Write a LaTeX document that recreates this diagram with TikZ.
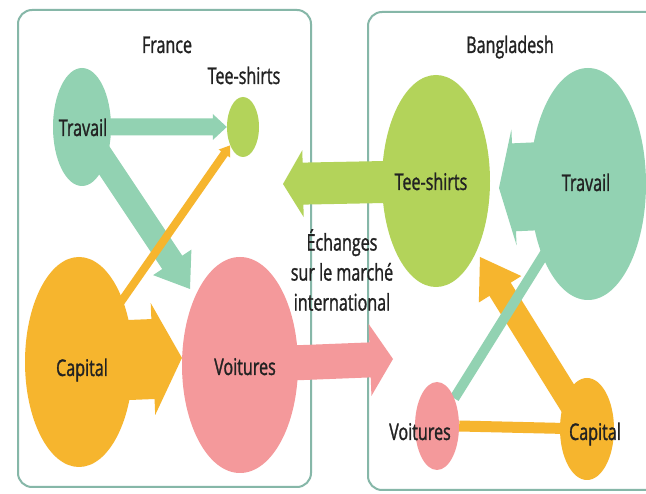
\documentclass[tikz,border=0pt]{standalone}
\usepackage{fontspec}
\setmainfont{Open Sans}[FakeStretch=0.7,FakeBold=1.2]
\usetikzlibrary{calc,shapes.geometric}
\definecolor{mint}{HTML}{92D2B2}
\definecolor{lime}{HTML}{B3D35A}
\definecolor{orng}{HTML}{F6B52E}
\definecolor{pinkc}{HTML}{F4999B}
\definecolor{frm}{HTML}{86B7A8}
\definecolor{txt}{HTML}{222222}
\pgfdeclarelayer{bg}
\pgfsetlayers{bg,main}
\newcommand{\fatarr}[6]{%
  \coordinate (fa-h) at ($(#2)!#5!(#1)$);
  \fill[#6] ($(#1)!#3!-90:(#2)$) -- ($(fa-h)!#3!90:(#1)$) -- ($(fa-h)!#4!90:(#1)$) -- (#2)
    -- ($(fa-h)!#4!-90:(#1)$) -- ($(fa-h)!#3!-90:(#1)$) -- ($(#1)!#3!90:(#2)$) -- cycle;}
\begin{document}
\begin{tikzpicture}[x=1pt,y=-1pt,
  blob/.style={ellipse, draw=none, inner sep=0pt},
  lbl/.style={font=\fontsize{23}{28}\selectfont, text=txt, inner sep=0pt, text height=16pt, text depth=0pt},
  frame/.style={draw=frm, line width=2pt, rounded corners=14pt}]
\useasboundingbox (0,0) rectangle (646,494);
\clip (0,0) rectangle (646,494);
% ellipses
\node[blob, fill=mint, minimum width=58pt, minimum height=118pt] (trF) at (82,127) {};
\node[blob, fill=lime, minimum width=32pt, minimum height=60pt] (tsF) at (243,127) {};
\node[blob, fill=orng, minimum width=108pt, minimum height=210pt] (caF) at (79,362) {};
\node[blob, fill=pinkc, minimum width=116pt, minimum height=216pt] (voF) at (240,365) {};
\node[blob, fill=lime, minimum width=108pt, minimum height=212pt] (tsB) at (436,181) {};
\node[blob, fill=mint, minimum width=116pt, minimum height=232pt] (trB) at (588,184) {};
\node[blob, fill=pinkc, minimum width=44pt, minimum height=88pt] (voB) at (437,426) {};
\node[blob, fill=orng, minimum width=54pt, minimum height=102pt] (caB) at (587,429) {};
% free ends
\coordinate (trFtip) at (190,289);
\coordinate (pinkTip) at (393,359);
\coordinate (greenTip) at (283,184);
\coordinate (trBtip) at (499,188);
\coordinate (caBtip) at (480,257);
\begin{pgfonlayer}{bg}
  \fill[white] (0,0) rectangle (646,494);
  \draw[frame] (18,10) rectangle (311,487);
  \draw[frame] (368,12) rectangle (660,490);
  % France
  \fatarr{trF.center}{tsF.west}{8.5pt}{13pt}{14pt}{mint}
  \fatarr{trF.center}{trFtip}{12pt}{23pt}{32pt}{mint}
  \fatarr{caF.center}{voF.173}{40pt}{56pt}{29pt}{orng}
  \fatarr{caF.center}{tsF.235}{4pt}{7pt}{10pt}{orng}
  % exchanges
  \fatarr{voF.center}{pinkTip}{17.5pt}{36pt}{23pt}{pinkc}
  \fatarr{tsB.center}{greenTip}{21pt}{33.5pt}{20pt}{lime}
  % Bangladesh
  \fatarr{trB.center}{trBtip}{44pt}{58pt}{15pt}{mint}
  \fatarr{caB.center}{caBtip}{12.5pt}{25pt}{38pt}{orng}
  \draw[orng, line width=11pt] (caB.center) -- (voB.east);
  \draw[mint, line width=10pt] (trB.center) -- (voB.58);
\end{pgfonlayer}
% labels
\node[lbl] (tFr) at (167,45) {France};
\node[lbl] (tBd) at (510,45) {Bangladesh};
\node[lbl] (lTsF) at (244,76) {Tee-shirts};
\node[lbl] (lTrF) at (83,128) {Travail};
\node[lbl] (lCaF) at (82,368) {Capital};
\node[lbl] (lVoF) at (245,367) {Voitures};
\node[lbl] (lTsB) at (431,182) {Tee-shirts};
\node[lbl] (lTrB) at (586,183) {Travail};
\node[lbl] (lVoB) at (420,432) {Voitures};
\node[lbl] (lCaB) at (595,432) {Capital};
\node[font=\fontsize{23}{30}\selectfont, text=txt, inner sep=0pt, align=center] (ech) at (342,270)
  {Échanges\\sur le marché\\international};
\end{tikzpicture}
\end{document}
